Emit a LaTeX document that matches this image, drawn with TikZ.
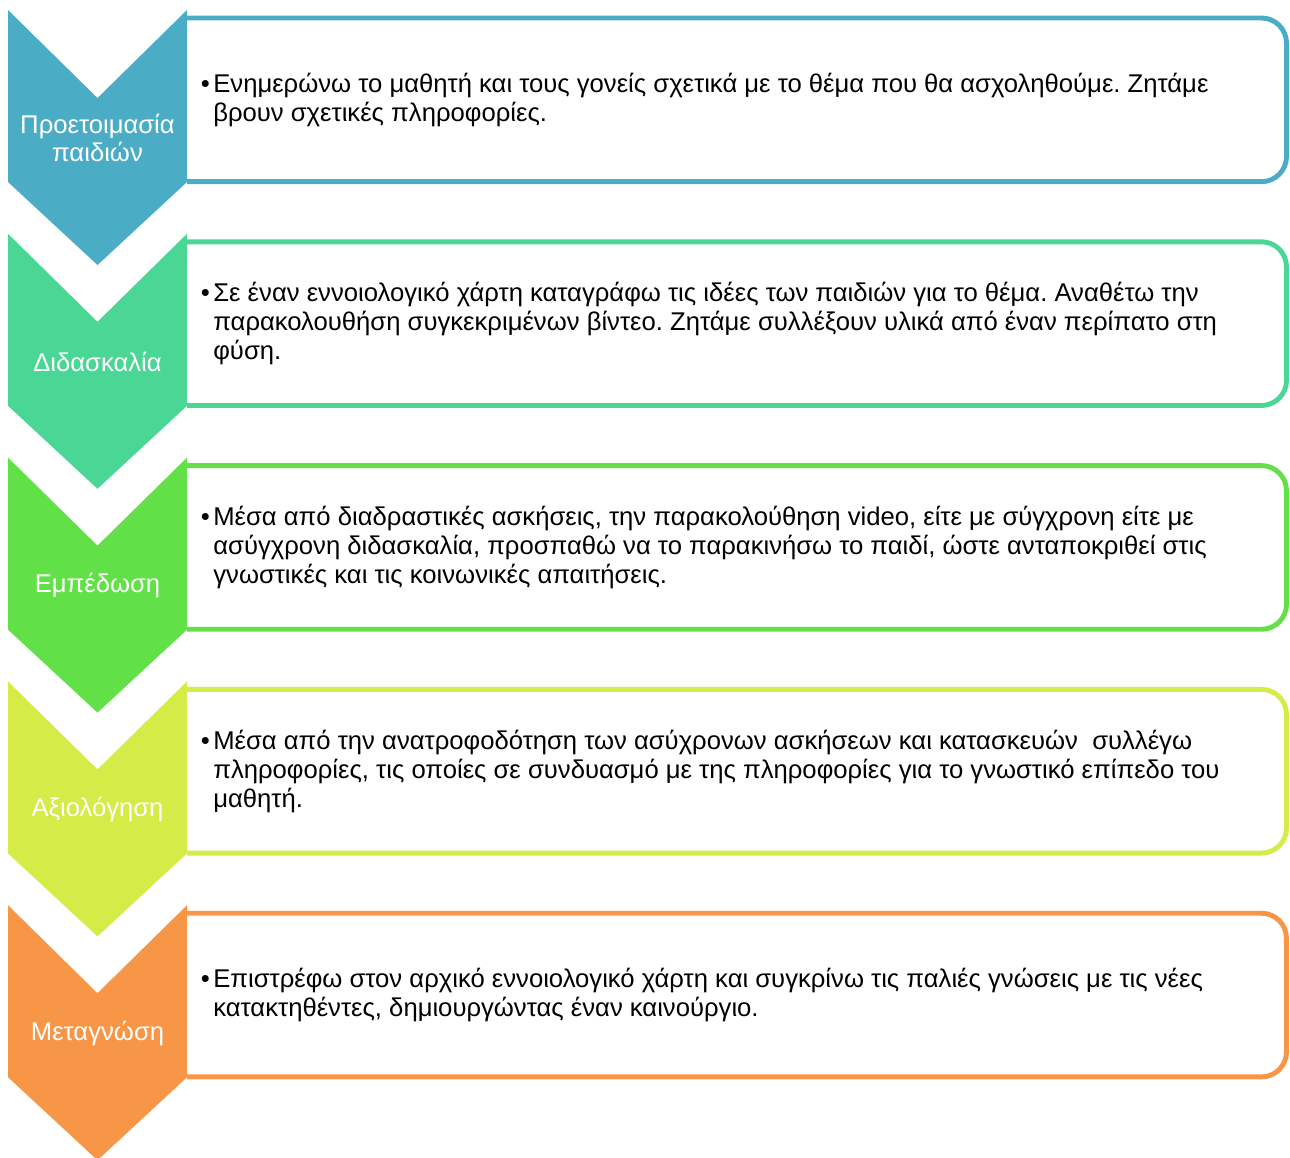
\documentclass[tikz,border=0pt]{standalone}
\usepackage{fontspec}
\setmainfont{Liberation Sans}
\usetikzlibrary{positioning}
\definecolor{stepAqua}{RGB}{75,172,198}
\definecolor{stepMint}{RGB}{74,214,148}
\definecolor{stepGreen}{RGB}{98,224,72}
\definecolor{stepLime}{RGB}{213,235,72}
\definecolor{stepOrange}{RGB}{247,150,70}
\newcommand{\steptext}{\fontsize{14.6}{16.4}\selectfont\frenchspacing}
\newcommand{\pt}{\llap{•\hspace{2pt}}}

\begin{document}
\begin{tikzpicture}[
  x=0.02cm, y=-0.02cm,
  frame/.style={
    minimum width=21.98cm,
    minimum height=3.26cm,
    inner sep=0pt,
    anchor=north west
  },
  outline/.style={line width=2.8pt, rounded corners=0.5cm},
  steplabel/.style={text=white, align=center, font=\steptext},
  bullettext/.style={align=left, inner sep=0pt, font=\steptext}
]
  \useasboundingbox (0,0) rectangle (1290,1157);
  % frames and chevrons
  \foreach \i/\col in {1/stepAqua,2/stepMint,3/stepGreen,4/stepLime,5/stepOrange}{
    \pgfmathsetmacro{\ytop}{10+223.8*(\i-1)}
    \node[frame] (b\i) at (187,\ytop+8) {};
    \draw[outline,\col] (b\i.north west) -- (b\i.north east) -- (b\i.south east) -- (b\i.south west);
    \fill[\col] (8,\ytop) -- (97.5,\ytop+88) -- (187,\ytop) -- (187,\ytop+172)
      -- (97.5,\ytop+255) -- (8,\ytop+172) -- cycle;
  }
  % labels
  \node[steplabel] (l1) at (97.5,138) {Προετοιμασία\\παιδιών};
  \node[steplabel] (l2) at (97.5,361.8) {Διδασκαλία};
  \node[steplabel] (l3) at (97.5,585.6) {Εμπέδωση};
  \node[steplabel] (l4) at (97.5,809.4) {Αξιολόγηση};
  \node[steplabel] (l5) at (97.5,1033.2) {Μεταγνώση};
  % texts
  \node[bullettext,right=0.52cm of b1.west] (t1) {\pt Ενημερώνω το μαθητή και τους γονείς σχετικά με το θέμα που θα ασχοληθούμε. Ζητάμε\\
    βρουν σχετικές πληροφορίες.};
  \node[bullettext,right=0.52cm of b2.west] (t2) {\pt Σε έναν εννοιολογικό χάρτη καταγράφω τις ιδέες των παιδιών για το θέμα. Αναθέτω την\\
    παρακολουθήση συγκεκριμένων βίντεο. Ζητάμε συλλέξουν υλικά από έναν περίπατο στη\\
    φύση.};
  \node[bullettext,right=0.52cm of b3.west] (t3) {\pt Μέσα από διαδραστικές ασκήσεις, την παρακολούθηση video, είτε με σύγχρονη είτε με\\
    ασύγχρονη διδασκαλία, προσπαθώ να το παρακινήσω το παιδί, ώστε ανταποκριθεί στις\\
    γνωστικές και τις κοινωνικές απαιτήσεις.};
  \node[bullettext,right=0.52cm of b4.west] (t4) {\pt Μέσα από την ανατροφοδότηση των ασύχρονων ασκήσεων και κατασκευών\ \ συλλέγω\\
    πληροφορίες, τις οποίες σε συνδυασμό με της πληροφορίες για το γνωστικό επίπεδο του\\
    μαθητή.};
  \node[bullettext,right=0.52cm of b5.west] (t5) {\pt Επιστρέφω στον αρχικό εννοιολογικό χάρτη και συγκρίνω τις παλιές γνώσεις με τις νέες\\
    κατακτηθέντες, δημιουργώντας έναν καινούργιο.};
\end{tikzpicture}
\end{document}
